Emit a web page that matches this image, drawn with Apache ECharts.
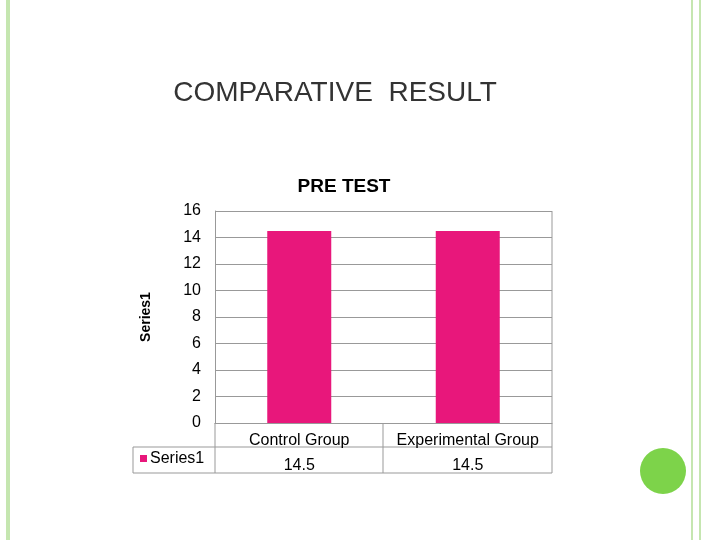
<!DOCTYPE html>
<html><head><meta charset="utf-8">
<script src="https://cdn.jsdelivr.net/npm/echarts@6/dist/echarts.min.js"></script>
<style>html,body{margin:0;background:#fff}#c{width:720px;height:540px}</style>
</head><body><div id="c"></div>
<script>
const categories = ['Control Group', 'Experimental Group'];
const values = [14.5, 14.5];
const seriesName = 'Series1';
const yTicks = [0, 16, 2];

const chart = echarts.init(document.getElementById('c'));
const pink = '#e8177b';
const ln = (x1, y1, x2, y2, c, w) => ({ type: 'line', shape: { x1, y1, x2, y2 }, style: { stroke: c || '#999', lineWidth: w || 1 } });

chart.setOption({
    animation: false,
    title: [
        { text: 'COMPARATIVE  RESULT', left: 330, top: 74, textAlign: 'center',
          textStyle: { fontFamily: 'Liberation Sans', fontSize: 28, fontWeight: 'normal', color: '#333' } },
        { text: 'PRE TEST', left: 339, top: 172, textAlign: 'center',
          textStyle: { fontFamily: 'Liberation Sans', fontSize: 19, fontWeight: 'bold', color: '#000' } }
    ],
    grid: { left: 215, right: 168, top: 211, bottom: 117 },
    xAxis: {
        type: 'category', data: categories,
        axisLine: { lineStyle: { color: '#999' } }, axisTick: { show: false },
        axisLabel: {
            margin: 5,
            formatter: (v, i) => `{a|${v}}\n{b|${values[i]}}`,
            rich: { a: { fontSize: 16, lineHeight: 25, fontFamily: 'Liberation Sans', color: '#000' },
                    b: { fontSize: 16, lineHeight: 25, fontFamily: 'Liberation Sans', color: '#000' } }
        }
    },
    yAxis: {
        type: 'value', min: yTicks[0], max: yTicks[1], interval: yTicks[2],
        name: seriesName, nameLocation: 'middle', nameGap: 62, nameRotate: 90,
        nameTextStyle: { fontFamily: 'Liberation Sans', fontSize: 14, fontWeight: 'bold', color: '#000' },
        axisLine: { show: true, lineStyle: { color: '#999' } },
        axisLabel: { fontSize: 16, fontFamily: 'Liberation Sans', color: '#000', margin: 14 },
        splitLine: { lineStyle: { color: '#999' } }
    },
    series: [{ name: seriesName, type: 'bar', data: values, barWidth: 64, itemStyle: { color: pink } }],
    graphic: [
        ln(8, 0, 8, 540, '#c5e6b0', 4),
        ln(692, 0, 692, 540, '#c5e6b0', 2),
        ln(700, 0, 700, 540, '#c5e6b0', 2),
        { type: 'circle', shape: { cx: 663, cy: 471, r: 23 }, style: { fill: '#7dd34a' } },
        ln(215, 423, 215, 473), ln(383, 423, 383, 473), ln(552, 423, 552, 473),
        ln(133, 447, 133, 473), ln(133, 447, 552, 447), ln(133, 473, 552, 473),
        ln(552, 211, 552, 423),
        { type: 'rect', shape: { x: 140, y: 455, width: 7, height: 7 }, style: { fill: pink } },
        { type: 'text', x: 150, y: 451, style: { text: seriesName, fontSize: 16, fontFamily: 'Liberation Sans', fill: '#000' } }
    ]
});
</script></body></html>
